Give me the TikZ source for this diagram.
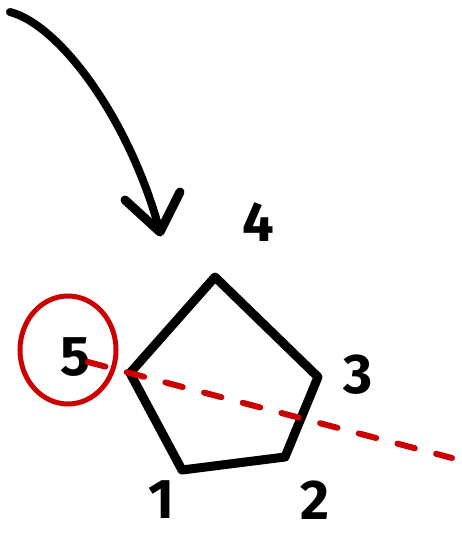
\documentclass[tikz,border=0pt]{standalone}
\usepackage{fontspec}
\setmainfont{Fira Sans}
\begin{document}
\begin{tikzpicture}[x=1pt,y=-1pt,
  ink/.style={line width=9pt,line cap=round,line join=round,black},
  redink/.style={line width=5pt,line cap=round,red!80!black},
  lbl/.style={font=\fontsize{56}{56}\selectfont\bfseries,inner sep=0pt}]
\useasboundingbox (0,0) rectangle (462,536);
% pentagon vertices
\coordinate (v5) at (130,373);
\coordinate (v4) at (215,277);
\coordinate (v3) at (318,377);
\coordinate (v2) at (285,457);
\coordinate (v1) at (182,470);
\draw[ink] (v5) -- (v4) -- (v3) -- (v2) -- (v1) -- cycle;
% labels
\node[lbl] (l4) at (258,222) {4};
\node[lbl] (l3) at (358,375) {3};
\node[lbl] (l2) at (315,500) {2};
\node[lbl] (l1) at (161,500) {1};
\node[lbl] (l5) at (76,357) {5};
% red circle and dashed line
\draw[redink] (68,350) ellipse [x radius=48, y radius=54];
\coordinate (rs) at (88,362);
\coordinate (re) at (452,458);
\draw[redink,line width=6pt,dash pattern=on 18pt off 22pt] (rs) -- (re);
% arrow
\coordinate (as) at (10,12);
\coordinate (at) at (160,232);
\draw[ink,line width=8pt] (as) .. controls (60,25) and (130,120) .. (at);
\draw[ink] (125,200) -- (at) -- (180,192);
\end{tikzpicture}
\end{document}
